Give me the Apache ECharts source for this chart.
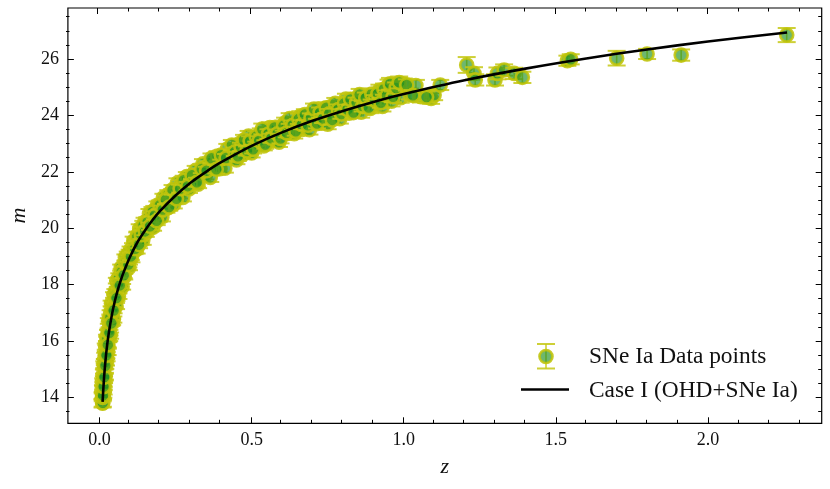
<!DOCTYPE html>
<html><head><meta charset="utf-8">
<script src="https://cdn.jsdelivr.net/npm/echarts@6/dist/echarts.min.js"></script>
<style>html,body{margin:0;padding:0;background:#fff}#c{width:830px;height:489px}</style>
</head><body><div id="c"></div>
<script>
// ---- data ----
const snZ = [
0.0100,0.0103,0.0107,0.0112,0.0116,0.0121,0.0126,0.0131,0.0137,0.0143,0.0149,0.0156,0.0163,0.0170,0.0178,0.0186,0.0195,0.0204,0.0213,0.0223,
0.0233,0.0244,0.0255,0.0267,0.0279,0.0292,0.0305,0.0319,0.0333,0.0348,0.0364,0.0380,0.0397,0.0415,0.0434,0.0454,0.0475,0.0497,0.0520,0.0544,
0.0569,0.0595,0.0622,0.0650,0.0680,0.0711,0.0743,0.0777,0.0812,0.0849,0.0887,0.0927,0.0968,
0.0105,0.0114,0.0124,0.0134,0.0146,0.0160,0.0174,0.0190,0.0208,0.0228,0.0250,0.0273,0.0298,0.0326,0.0356,0.0388,0.0424,0.0464,0.0508,0.0556,
0.0608,0.0665,0.0727,0.0795,0.0868,0.0948,0.0990,
0.102,0.105,0.108,0.112,0.115,0.118,0.122,0.125,0.128,0.132,0.135,0.138,0.142,0.145,0.148,0.152,0.156,0.160,0.164,0.168,0.172,0.176,0.180,0.185,
0.190,0.195,0.200,0.205,0.210,0.215,0.220,0.226,0.232,0.238,0.244,0.250,0.256,0.262,0.268,0.274,0.280,0.287,0.294,0.300,0.308,0.316,0.324,0.332,
0.340,0.348,0.356,0.364,0.372,0.380,0.388,0.396,0.404,0.412,0.420,0.430,0.440,0.450,
0.46,0.47,0.48,0.49,0.50,0.51,0.52,0.53,0.54,0.55,0.56,0.57,0.58,0.59,0.60,0.61,0.62,0.63,0.64,0.65,0.66,0.67,0.68,0.69,0.70,0.71,0.72,0.73,0.74,0.75,
0.76,0.77,0.78,0.79,0.80,0.81,0.82,0.83,0.84,0.85,0.86,0.87,0.88,0.89,0.90,0.91,0.92,0.93,0.94,0.95,0.96,0.97,0.98,0.99,1.00,1.02,1.04,
1.057,1.09,1.10,1.12,1.207,1.231,1.235,1.300,1.308,1.330,1.363,1.390,1.538,1.549,1.700,1.800,1.912,2.259,
0.103,0.110,0.117,0.124,0.130,0.137,0.144,0.150,0.158,0.166,0.174,0.182,0.188,0.198,0.208,0.218,0.229,0.240,0.253,0.265,0.277,0.290,0.304,0.320,
0.336,0.352,0.368,0.384,0.400,0.416,0.435,0.445,
0.455,0.465,0.475,0.485,0.495,0.505,0.515,0.525,0.535,0.545,0.555,0.565,0.575,0.585,0.595,0.605,0.615,0.625,0.635,0.645,0.655,0.665,0.675,0.685,
0.695,0.705,0.715,0.725,0.735,0.745,0.755,0.765,0.775,0.785,0.795,0.805,0.815,0.825,0.835,0.845,0.855,0.865,0.875,0.885,0.895,0.905,0.915,0.925,
0.935,0.945,0.955,0.965,0.975,0.985,1.010,1.030,1.075
];
const snM = [
13.79,14.05,13.81,14.30,14.06,14.55,14.12,14.51,14.23,14.87,14.63,15.16,14.71,15.10,14.75,15.47,15.25,15.80,15.24,15.74,
15.39,16.11,15.89,15.61,16.29,16.07,16.71,16.11,16.59,16.19,16.99,16.73,17.33,16.68,17.23,16.76,17.63,17.29,17.74,17.24,
18.14,17.79,17.59,18.29,17.95,18.60,17.92,18.50,18.28,18.96,18.66,19.06,18.61,
14.00,14.07,14.42,14.38,14.72,14.72,15.25,15.12,15.52,15.49,16.05,15.86,16.34,16.29,16.84,16.63,17.11,17.08,17.59,17.52,
18.02,17.97,18.45,18.33,18.76,18.71,19.14,
19.23,18.94,19.20,19.54,19.20,19.51,19.25,19.75,19.56,19.98,19.56,19.92,19.56,19.94,20.21,19.82,20.24,20.05,20.51,20.02,20.39,20.03,20.63,20.45,
20.81,20.39,20.77,20.40,21.08,20.84,20.70,21.19,20.93,21.24,20.85,21.26,21.60,21.18,21.55,21.09,21.50,21.83,21.39,21.77,21.61,22.05,21.56,21.97,
22.28,21.87,22.22,21.80,22.41,22.21,22.56,22.11,22.48,22.13,22.81,22.47,22.80,22.42,
23.00,22.61,22.91,23.27,22.67,23.12,22.97,23.37,22.92,23.22,23.57,23.11,23.51,23.05,23.50,23.74,23.36,23.71,23.35,23.66,23.97,23.51,23.88,23.49,24.03,23.85,24.23,23.72,24.06,23.69,
24.31,24.01,24.30,23.88,24.28,24.58,24.08,24.44,24.20,24.63,24.11,24.44,24.67,24.25,24.63,24.46,24.89,24.32,24.69,25.07,24.50,24.98,25.11,24.63,25.11,24.76,25.06,
24.66,24.60,24.72,25.08,25.79,25.49,25.26,25.26,25.49,25.61,25.49,25.35,25.94,25.99,26.03,26.18,26.14,26.85,
19.00,19.32,19.27,19.69,19.42,19.77,20.09,19.89,20.22,20.07,20.58,20.46,20.26,20.82,20.66,21.01,20.75,21.36,21.04,21.40,21.70,21.49,21.88,21.63,
22.10,22.04,22.48,22.09,22.59,22.49,22.95,22.71,
22.55,22.88,23.13,22.74,23.09,22.80,23.25,23.10,23.52,22.97,23.34,23.19,23.57,23.35,23.18,23.64,23.38,23.89,23.65,23.44,23.88,23.67,24.03,23.65,
23.91,24.23,23.71,24.10,23.89,24.27,24.06,23.84,24.43,24.21,24.05,24.43,24.21,24.57,24.10,24.46,24.74,24.32,24.62,24.28,24.76,24.54,24.77,24.45,
24.93,24.71,25.12,24.66,24.97,25.17,25.08,24.71,24.65
];
const snErr = [
0.15,0.14,0.14,0.13,0.14,0.13,0.13,0.12,0.13,0.12,0.12,0.12,0.12,0.11,0.12,0.11,0.11,0.11,0.11,0.11,
0.11,0.11,0.10,0.11,0.10,0.11,0.10,0.11,0.10,0.11,0.10,0.11,0.10,0.11,0.10,0.11,0.10,0.11,0.10,0.11,
0.10,0.11,0.10,0.11,0.10,0.11,0.10,0.11,0.10,0.11,0.10,0.11,0.10,
0.14,0.13,0.13,0.12,0.12,0.12,0.11,0.11,0.11,0.11,0.10,0.10,0.10,0.10,0.10,0.10,0.10,0.10,0.10,0.10,
0.10,0.10,0.10,0.10,0.10,0.10,0.10,
0.12,0.15,0.13,0.16,0.12,0.14,0.15,0.13,0.12,0.16,0.14,0.13,0.15,0.12,0.16,0.13,0.14,0.12,0.17,0.13,0.15,0.12,0.16,0.13,
0.14,0.15,0.13,0.16,0.14,0.12,0.15,0.16,0.13,0.14,0.15,0.12,0.17,0.13,0.15,0.14,0.12,0.16,0.14,0.13,0.15,0.16,0.14,0.13,
0.17,0.14,0.15,0.16,0.14,0.13,0.17,0.15,0.14,0.16,0.18,0.14,0.16,0.15,
0.16,0.15,0.14,0.18,0.16,0.15,0.14,0.17,0.16,0.15,0.18,0.15,0.16,0.17,0.15,0.18,0.16,0.15,0.17,0.16,0.18,0.16,0.15,0.17,0.16,0.15,0.18,0.17,0.16,0.18,
0.17,0.16,0.18,0.17,0.16,0.19,0.17,0.16,0.18,0.17,0.19,0.16,0.18,0.17,0.18,0.17,0.20,0.18,0.17,0.20,0.18,0.19,0.20,0.18,0.20,0.19,0.20,
0.20,0.19,0.18,0.18,0.28,0.22,0.20,0.20,0.21,0.20,0.20,0.20,0.18,0.18,0.26,0.18,0.20,0.25,
0.13,0.15,0.14,0.16,0.13,0.15,0.17,0.14,0.15,0.13,0.17,0.14,0.15,0.16,0.14,0.15,0.13,0.17,0.15,0.14,0.16,0.15,0.14,0.16,
0.15,0.14,0.17,0.15,0.16,0.14,0.18,0.15,
0.16,0.15,0.18,0.16,0.17,0.15,0.18,0.16,0.19,0.15,0.17,0.16,0.18,0.15,0.17,0.18,0.16,0.19,0.17,0.16,0.18,0.16,0.19,0.17,
0.16,0.19,0.17,0.18,0.16,0.19,0.17,0.16,0.19,0.18,0.17,0.19,0.17,0.19,0.18,0.17,0.20,0.18,0.19,0.17,0.20,0.18,0.19,0.18,
0.20,0.18,0.21,0.19,0.20,0.21,0.20,0.19,0.20
];
const curveZ = [0.010,0.015,0.020,0.025,0.030,0.040,0.050,0.060,0.070,0.080,0.100,0.125,0.150,0.175,0.200,0.250,0.300,0.350,0.400,0.500,0.600,0.700,0.800,0.900,1.000,1.200,1.400,1.600,1.800,2.000,2.260];
const curveM = [13.84,14.72,15.36,15.85,16.25,16.89,17.40,17.81,18.16,18.46,18.98,19.51,19.93,20.30,20.62,21.16,21.62,22.00,22.34,22.92,23.40,23.81,24.16,24.48,24.76,25.25,25.66,26.02,26.34,26.62,26.94];
const xMajorTicks = [0.0,0.5,1.0,1.5,2.0];
const xMinorTicks = [0.1,0.2,0.3,0.4,0.6,0.7,0.8,0.9,1.1,1.2,1.3,1.4,1.6,1.7,1.8,1.9,2.1,2.2,2.3];
const yMajorTicks = [14,16,18,20,22,24,26];
const yMinorTicks = [13.5,14.5,15,15.5,16.5,17,17.5,18.5,19,19.5,20.5,21,21.5,22.5,23,23.5,24.5,25,25.5,26.5,27,27.5];
const seriesNames = ['SNe Ia Data points','Case I (OHD+SNe Ia)'];
const axisNames = ['z','m'];

// ---- chart ----
const XMIN = -0.104, XMAX = 2.374, YMIN = 13.08, YMAX = 27.81;
const FONT = '"Liberation Serif","Times New Roman",serif';
const ERR_COLOR = 'rgba(198,200,20,0.85)';
const FILL = 'rgba(35,145,35,0.66)';
const EDGE = 'rgba(192,196,10,0.88)';
const R = 6.5;

const snRows = snZ.map((z,i)=>[z, snM[i], snErr[i]]);
const curveRows = curveZ.map((z,i)=>[z, curveM[i]]);

const G = {left:66, right:8.3, top:8, bottom:65.7};
function xAxisDef(gi, pos, ticks, len, labels, name){
  return {type:'value', gridIndex:gi, position:pos, min:XMIN, max:XMAX,
    axisLine:{show:false, onZero:false}, splitLine:{show:false},
    axisTick:{show:true, inside:true, length:len, customValues:ticks, lineStyle:{color:'#000', width:1}},
    axisLabel:labels ? {show:true, customValues:ticks, formatter:v=>Number(v).toFixed(1), fontFamily:FONT, fontSize:18, color:'#111', margin:8} : {show:false},
    name: name||'', nameLocation:'middle', nameGap:33,
    nameTextStyle:{fontFamily:FONT, fontStyle:'italic', fontSize:22, color:'#111'}};
}
function yAxisDef(gi, pos, ticks, len, labels, name){
  return {type:'value', gridIndex:gi, position:pos, min:YMIN, max:YMAX,
    axisLine:{show:false, onZero:false}, splitLine:{show:false},
    axisTick:{show:true, inside:true, length:len, customValues:ticks, lineStyle:{color:'#000', width:1}},
    axisLabel:labels ? {show:true, customValues:ticks, formatter:v=>String(Math.round(v)), fontFamily:FONT, fontSize:18, color:'#111', margin:9} : {show:false},
    name: name||'', nameLocation:'middle', nameGap:33, nameRotate:90,
    nameTextStyle:{fontFamily:FONT, fontStyle:'italic', fontSize:22, color:'#111'}};
}

const chart = echarts.init(document.getElementById('c'), null, {renderer:'canvas'});
chart.setOption({
  animation:false,
  backgroundColor:'#fff',
  grid:[
    Object.assign({show:true, borderColor:'#000', borderWidth:1.2, backgroundColor:'transparent'}, G),
    Object.assign({}, G), Object.assign({}, G), Object.assign({}, G)
  ],
  xAxis:[
    xAxisDef(0, 'bottom', xMajorTicks, 6, true, axisNames[0]),
    xAxisDef(1, 'bottom', xMinorTicks, 3.5, false),
    xAxisDef(2, 'top', xMajorTicks, 6, false),
    xAxisDef(3, 'top', xMinorTicks, 3.5, false)
  ],
  yAxis:[
    yAxisDef(0, 'left', yMajorTicks, 6, true, axisNames[1]),
    yAxisDef(1, 'left', yMinorTicks, 3.5, false),
    yAxisDef(2, 'right', yMajorTicks, 6, false),
    yAxisDef(3, 'right', yMinorTicks, 3.5, false)
  ],
  series:[
    {type:'custom', name:seriesNames[0], xAxisIndex:0, yAxisIndex:0, silent:true, z:2,
     data:snRows, encode:{x:0,y:1},
     renderItem:function(params, api){
       const z=api.value(0), m=api.value(1), e=api.value(2);
       const c=api.coord([z,m]), t=api.coord([z,m+e]), b=api.coord([z,m-e]);
       const hw=9;
       return {type:'group', children:[
         {type:'line', shape:{x1:t[0],y1:t[1],x2:b[0],y2:b[1]}, style:{stroke:ERR_COLOR, lineWidth:1.6}},
         {type:'line', shape:{x1:t[0]-hw,y1:t[1],x2:t[0]+hw,y2:t[1]}, style:{stroke:ERR_COLOR, lineWidth:2}},
         {type:'line', shape:{x1:b[0]-hw,y1:b[1],x2:b[0]+hw,y2:b[1]}, style:{stroke:ERR_COLOR, lineWidth:2}},
         {type:'circle', shape:{cx:c[0], cy:c[1], r:R}, style:{fill:FILL, stroke:EDGE, lineWidth:2.6}}
       ]};
     }},
    {type:'line', name:seriesNames[1], xAxisIndex:0, yAxisIndex:0, z:5, silent:true,
     data:curveRows, showSymbol:false, smooth:0.3,
     lineStyle:{color:'#000', width:2.6}}
  ],
  graphic:[
    {type:'line', shape:{x1:546,y1:344,x2:546,y2:368.5}, style:{stroke:ERR_COLOR, lineWidth:1.6}, z:10},
    {type:'line', shape:{x1:537,y1:344,x2:555,y2:344}, style:{stroke:ERR_COLOR, lineWidth:2}, z:10},
    {type:'line', shape:{x1:537,y1:368.5,x2:555,y2:368.5}, style:{stroke:ERR_COLOR, lineWidth:2}, z:10},
    {type:'circle', shape:{cx:546,cy:356.5,r:R}, style:{fill:FILL, stroke:EDGE, lineWidth:2.6}, z:11},
    {type:'text', left:589, top:345.5, style:{text:seriesNames[0], font:'23.4px '+FONT, fill:'#111'}, z:11},
    {type:'line', shape:{x1:521,y1:389.5,x2:569,y2:389.5}, style:{stroke:'#000', lineWidth:2.6}, z:10},
    {type:'text', left:589, top:379, style:{text:seriesNames[1], font:'23.4px '+FONT, fill:'#111'}, z:11}
  ]
});
</script></body></html>
